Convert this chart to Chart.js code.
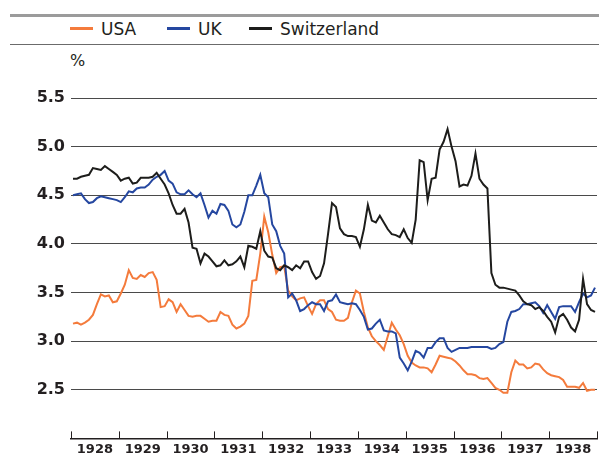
<!DOCTYPE html>
<html>
<head>
<meta charset="utf-8">
<script src="https://cdn.jsdelivr.net/npm/chart.js@4.4.1/dist/chart.umd.min.js"></script>
<style>
    body { margin: 0; background: #fff; }
    #wrap { position: relative; width: 599px; height: 454px; font-family: 'DejaVu Sans', sans-serif; color: #231f20; }
    #wrap canvas { position: absolute; left: 0; top: 0; }
    .rule { position: absolute; left: 10px; width: 589px; }
    .legend-item { position: absolute; top: 21px; font-size: 17px; line-height: 17px; white-space: nowrap; }
    .legend-item i { position: absolute; top: 6px; width: 23px; height: 3px; }
    #unit { position: absolute; left: 70px; top: 51px; font-size: 16px; }
</style>
</head>
<body>
<div id="wrap">
    <div class="rule" style="top:14px;height:3px;background:#9b9b9b"></div>
    <div class="rule" style="top:44px;height:1px;background:#6b6b6b"></div>
    <div id="legend"></div>
    <div id="unit">%</div>
    <canvas id="chart" width="599" height="454"></canvas>
</div>
<script>
// monthly yields, Jan 1928 - Dec 1938
const years = ['1928', '1929', '1930', '1931', '1932', '1933', '1934', '1935', '1936', '1937', '1938'];
const yTicks = [2.5, 3.0, 3.5, 4.0, 4.5, 5.0, 5.5];

const usa = [
    3.18, 3.19, 3.17, 3.19, 3.22, 3.27, 3.38, 3.48, 3.46, 3.47, 3.40, 3.41,
    3.49, 3.58, 3.73, 3.65, 3.64, 3.68, 3.66, 3.70, 3.71, 3.63, 3.35, 3.36,
    3.43, 3.40, 3.30, 3.38, 3.32, 3.26, 3.25, 3.26, 3.26, 3.23, 3.20, 3.21,
    3.21, 3.30, 3.27, 3.26, 3.17, 3.13, 3.15, 3.18, 3.26, 3.62, 3.63, 3.90,
    4.28, 4.12, 3.89, 3.70, 3.76, 3.77, 3.52, 3.46, 3.42, 3.44, 3.45, 3.36,
    3.28, 3.38, 3.42, 3.42, 3.33, 3.30, 3.22, 3.21, 3.21, 3.24, 3.40, 3.52,
    3.49, 3.30, 3.14, 3.05, 3.00, 2.96, 2.91, 3.05, 3.19, 3.12, 3.06, 2.97,
    2.85, 2.78, 2.75, 2.73, 2.73, 2.72, 2.68, 2.76, 2.85, 2.84, 2.83, 2.82,
    2.79, 2.75, 2.70, 2.66, 2.66, 2.65, 2.62, 2.61, 2.62, 2.57, 2.52, 2.50,
    2.47, 2.47, 2.68, 2.80, 2.76, 2.76, 2.72, 2.73, 2.77, 2.76, 2.71, 2.67,
    2.65, 2.64, 2.63, 2.60, 2.53, 2.53, 2.53, 2.52, 2.57, 2.49, 2.50, 2.50
];
const uk = [
    4.50, 4.51, 4.52, 4.46, 4.42, 4.43, 4.47, 4.49, 4.48, 4.47, 4.46, 4.45,
    4.43, 4.48, 4.54, 4.53, 4.57, 4.58, 4.58, 4.61, 4.66, 4.69, 4.71, 4.75,
    4.65, 4.62, 4.53, 4.51, 4.51, 4.55, 4.51, 4.48, 4.52, 4.40, 4.27, 4.34,
    4.31, 4.41, 4.40, 4.34, 4.20, 4.17, 4.20, 4.33, 4.50, 4.50, 4.60, 4.71,
    4.52, 4.48, 4.20, 4.13, 3.98, 3.90, 3.45, 3.49, 3.42, 3.31, 3.33, 3.37,
    3.40, 3.38, 3.38, 3.31, 3.41, 3.42, 3.48, 3.40, 3.39, 3.38, 3.39, 3.38,
    3.32, 3.25, 3.12, 3.13, 3.18, 3.22, 3.11, 3.10, 3.10, 3.08, 2.83, 2.77,
    2.70, 2.79, 2.90, 2.88, 2.83, 2.93, 2.93, 2.99, 3.03, 3.03, 2.93, 2.89,
    2.91, 2.93, 2.93, 2.93, 2.94, 2.94, 2.94, 2.94, 2.94, 2.92, 2.93, 2.97,
    2.99, 3.20, 3.30, 3.31, 3.33, 3.38, 3.38, 3.39, 3.40, 3.36, 3.29, 3.37,
    3.30, 3.23, 3.35, 3.36, 3.36, 3.36, 3.30, 3.40, 3.49, 3.45, 3.47, 3.55
];
const switzerland = [
    4.67, 4.67, 4.69, 4.70, 4.71, 4.78, 4.77, 4.76, 4.80, 4.77, 4.74, 4.71,
    4.65, 4.67, 4.68, 4.62, 4.63, 4.68, 4.68, 4.68, 4.69, 4.73, 4.67, 4.61,
    4.52, 4.40, 4.31, 4.31, 4.36, 4.22, 3.96, 3.95, 3.80, 3.90, 3.87, 3.82,
    3.77, 3.78, 3.83, 3.78, 3.79, 3.82, 3.87, 3.76, 3.98, 3.97, 3.95, 4.13,
    3.93, 3.87, 3.86, 3.75, 3.73, 3.78, 3.76, 3.73, 3.78, 3.75, 3.82, 3.82,
    3.71, 3.64, 3.67, 3.80, 4.10, 4.42, 4.38, 4.16, 4.10, 4.08, 4.08, 4.07,
    3.97, 4.15, 4.40, 4.24, 4.22, 4.29, 4.22, 4.15, 4.10, 4.09, 4.07, 4.15,
    4.06, 4.01, 4.25, 4.86, 4.84, 4.45, 4.67, 4.68, 4.97, 5.05, 5.18, 5.00,
    4.85, 4.59, 4.61, 4.60, 4.70, 4.93, 4.67, 4.61, 4.57, 3.70, 3.58, 3.55,
    3.55, 3.54, 3.53, 3.52, 3.47, 3.41, 3.38, 3.37, 3.33, 3.35, 3.31, 3.25,
    3.20, 3.09, 3.25, 3.28, 3.22, 3.14, 3.10, 3.22, 3.64, 3.38, 3.32, 3.30
];

const SERIES = [
    { name: 'USA', values: usa, color: '#f47b3c', order: 2, legendLeft: 70 },
    { name: 'UK', values: uk, color: '#2547a0', order: 1, legendLeft: 167 },
    { name: 'Switzerland', values: switzerland, color: '#1d1d1b', order: 0, legendLeft: 249 }
];

const INK = '#231f20';

// upward tick marks on the time axis at each year boundary
const yearTicks = {
    id: 'yearTicks',
    afterDraw(chart) {
        const { ctx, chartArea, scales } = chart;
        ctx.save();
        ctx.strokeStyle = INK;
        ctx.lineWidth = 1;
        for (let k = 0; k <= years.length; k++) {
            const px = Math.round(scales.x.getPixelForValue(k * 12)) + 0.5;
            ctx.beginPath();
            ctx.moveTo(px, chartArea.bottom);
            ctx.lineTo(px, chartArea.bottom - 7);
            ctx.stroke();
        }
        ctx.restore();
    }
};

function buildLegend() {
    const box = document.getElementById('legend');
    SERIES.forEach(s => {
        const item = document.createElement('div');
        item.className = 'legend-item';
        item.style.left = s.legendLeft + 'px';
        item.style.paddingLeft = '31px';
        const sw = document.createElement('i');
        sw.style.left = '0px';
        sw.style.background = s.color;
        item.appendChild(sw);
        item.appendChild(document.createTextNode(s.name));
        box.appendChild(item);
    });
}

function initChart() {
    const ctx = document.getElementById('chart').getContext('2d');
    Chart.defaults.font.family = "'DejaVu Sans', sans-serif";
    Chart.defaults.color = INK;

    new Chart(ctx, {
        type: 'line',
        data: {
            datasets: SERIES.map(s => ({
                label: s.name,
                data: s.values.map((v, i) => ({ x: i + 0.5, y: v })),
                borderColor: s.color,
                borderWidth: 2,
                pointRadius: 0,
                tension: 0,
                order: s.order
            }))
        },
        options: {
            responsive: false,
            animation: false,
            layout: { padding: { top: 98, right: 2, bottom: 0, left: 0 } },
            plugins: { legend: { display: false }, tooltip: { enabled: false } },
            scales: {
                x: {
                    type: 'linear',
                    min: 0,
                    max: years.length * 12,
                    afterBuildTicks: scale => { scale.ticks = years.map((y, k) => ({ value: k * 12 + 6 })); },
                    afterFit: scale => { scale.height = 15; },
                    ticks: {
                        autoSkip: false,
                        maxRotation: 0,
                        padding: 3,
                        font: { size: 13, weight: 'bold' },
                        callback: (v) => years[Math.floor(v / 12)]
                    },
                    grid: { display: false, drawTicks: false },
                    border: { display: true, color: INK, width: 1.5 }
                },
                y: {
                    min: 2,
                    max: 5.5,
                    afterBuildTicks: scale => { scale.ticks = yTicks.map(v => ({ value: v })); },
                    afterFit: scale => { scale.width = 71; },
                    ticks: {
                        padding: 6,
                        font: { size: 16, weight: 'bold' },
                        callback: v => v.toFixed(1)
                    },
                    grid: { color: '#4a4a4a', lineWidth: 1, drawTicks: false },
                    border: { display: false }
                }
            }
        },
        plugins: [yearTicks]
    });
}

document.addEventListener('DOMContentLoaded', () => {
    buildLegend();
    initChart();
});
</script>
</body>
</html>
